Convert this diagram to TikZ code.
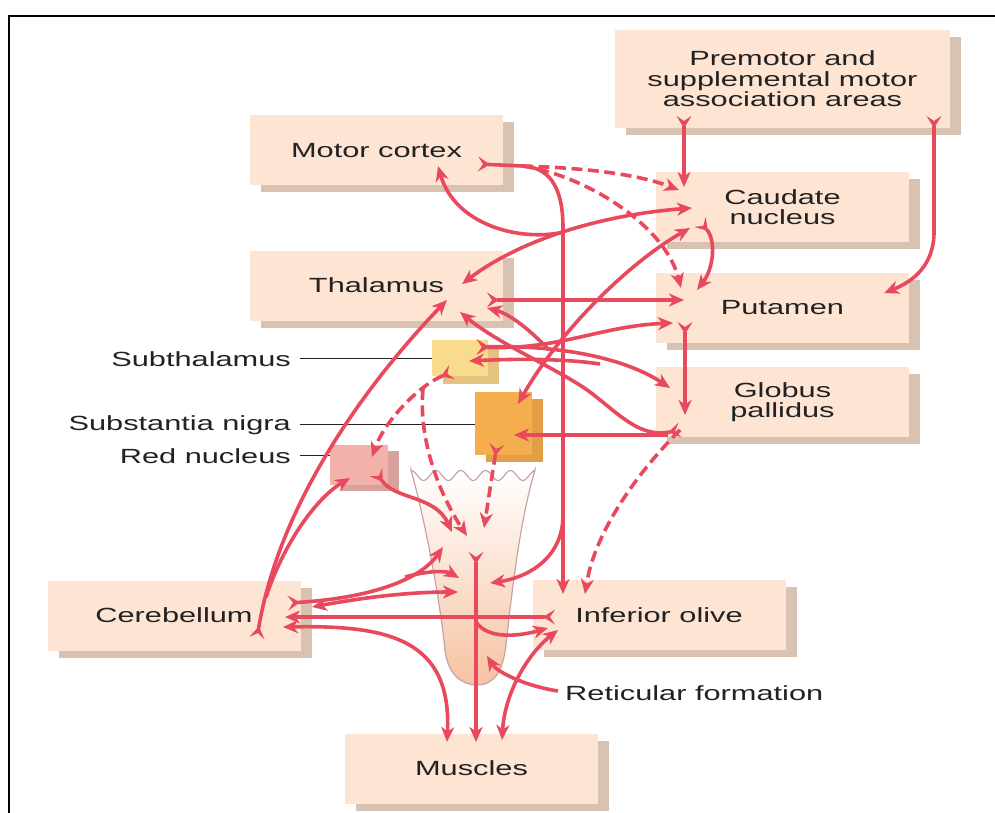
\documentclass[tikz,border=0pt]{standalone}
\usepackage{fontspec}
\setmainfont{Liberation Sans}[FakeStretch=1.5]
\usetikzlibrary{arrows.meta,shadows}

\definecolor{boxfill}{HTML}{FDE4D3}
\definecolor{boxshade}{HTML}{D8C3B2}
\definecolor{fibrec}{HTML}{E8495D}
\definecolor{ink}{HTML}{222222}
\definecolor{subfill}{HTML}{F9DB8E}
\definecolor{subshade}{HTML}{E5C27F}
\definecolor{snfill}{HTML}{F5AE4E}
\definecolor{snshade}{HTML}{E29F47}
\definecolor{rnfill}{HTML}{F2B2AA}
\definecolor{rnshade}{HTML}{D8A29C}
\definecolor{stemline}{HTML}{C9A2A5}
\definecolor{stemfill}{HTML}{F6C3A2}

\tikzset{
  fhead/.tip={Stealth[length=15pt,width=13pt,inset=4.5pt]},
  ftail/.tip={Stealth[reversed,length=12pt,width=15pt,inset=5pt]},
  lbl/.style={font=\fontsize{20.5}{20.5}\selectfont, text=ink},
  region/.style={lbl, fill=boxfill, inner sep=0pt, align=center,
     minimum width=253pt, minimum height=70pt,
     general shadow={fill=boxshade, shadow xshift=11pt, shadow yshift=-7pt}},
  nucleus/.style={inner sep=0pt},
  fibre/.style={draw=fibrec, line width=3.6pt},
  fwd/.style={fibre, arrows={-fhead}},
  both/.style={fibre, arrows={fhead-fhead}},
  tailed/.style={fibre, arrows={ftail-fhead}},
  broken/.style={dash pattern=on 11pt off 5.5pt},
  leader/.style={draw=ink, line width=1.2pt},
}

\begin{document}
\begin{tikzpicture}[x=1pt,y=-1pt]
\useasboundingbox (0,0) rectangle (995,813);
\clip (0,0) rectangle (995,813);
\fill[white] (0,0) rectangle (995,813);
\draw[line width=2.2pt] (9,16) rectangle (1100,900);

% ---- labelled regions ----
\node[region, minimum width=335pt, minimum height=98pt] (pm) at (782.5,79)
  {Premotor and\\supplemental motor\\association areas};
\node[region] (mc) at (376.5,150.5) {Motor cortex};
\node[region] (cd) at (782.5,207) {Caudate\\nucleus};
\node[region] (th) at (376.5,285.5) {Thalamus};
\node[region] (pt) at (782.5,308) {Putamen};
\node[region] (gp) at (782.5,402) {Globus\\pallidus};
\node[region] (cb) at (174,615.5) {Cerebellum};
\node[region] (io) at (659,615) {Inferior olive};
\node[region] (mu) at (471.5,768.5) {Muscles};

% ---- brain stem ----
\path[draw=stemline, line width=1.2pt, top color=white, bottom color=stemfill]
  (411,470) .. controls (425,520) and (440,600) .. (445,650)
  .. controls (448,675) and (462,685) .. (477,685)
  .. controls (495,685) and (503,670) .. (506,645)
  .. controls (512,590) and (520,520) .. (535,470)
  -- plot[domain=535:411, samples=90] (\x, {475.5 - 5*cos(14.5*(\x-436))})
  -- cycle;

% ---- nuclei ----
\node[nucleus, fill=subfill, minimum width=56pt, minimum height=36pt,
  general shadow={fill=subshade, shadow xshift=11pt, shadow yshift=-8pt}] (sub) at (460,358) {};
\node[nucleus, fill=snfill, minimum width=57pt, minimum height=63pt,
  general shadow={fill=snshade, shadow xshift=11pt, shadow yshift=-7pt}] (sn) at (503.5,423.5) {};
\node[nucleus, fill=rnfill, minimum width=58pt, minimum height=40pt,
  general shadow={fill=rnshade, shadow xshift=11pt, shadow yshift=-6pt}] (rn) at (359,465) {};

\node[lbl, anchor=base east, inner sep=0pt] (subLbl) at (291,366) {Subthalamus};
\node[lbl, anchor=base east, inner sep=0pt] (snLbl) at (291,430) {Substantia nigra};
\node[lbl, anchor=base east, inner sep=0pt] (rnLbl) at (291,463) {Red nucleus};
\node[lbl, anchor=base west, inner sep=0pt] (rfLbl) at (565,700) {Reticular formation};

\draw[leader] ([xshift=9pt]subLbl.east) -- (subLbl.east -| sub.west);
\draw[leader] ([xshift=9pt]snLbl.east) -- (snLbl.east -| sn.west);
\draw[leader] ([xshift=9pt]rnLbl.east) -- (rnLbl.east -| rn.west);

% ---- end points of the fibres ----
\coordinate (pmA) at (684,116);   \coordinate (cdTop) at (684,187);
\coordinate (pmB) at (934,116);   \coordinate (pmBk) at (934,232);
\coordinate (ptR) at (884,293);
\coordinate (mcOut) at (478,164); \coordinate (mcFork) at (522,166);
\coordinate (ioTopA) at (563,594);
\coordinate (cdIn1) at (679,190); \coordinate (ptIn1) at (681,288);
\coordinate (mcIn) at (438,166);  \coordinate (thIn1) at (462,284);
\coordinate (cdIn2) at (692,208); \coordinate (loopJ) at (564,232);
\coordinate (thOut) at (487,300); \coordinate (ptIn2) at (684,300);
\coordinate (cdOut) at (700,222); \coordinate (ptIn3) at (697,290);
\coordinate (ptOut) at (685,322); \coordinate (gpIn0) at (685,415);
\coordinate (snIn) at (518,404);  \coordinate (cdIn3) at (690,228);
\coordinate (stOut) at (477,347); \coordinate (ptIn4) at (673,323);
\coordinate (gpIn1) at (670,388);
\coordinate (stIn) at (469,361);  \coordinate (stRet) at (600,364);
\coordinate (hub) at (549,350);   \coordinate (thIn4) at (487,308);
\coordinate (gpOut) at (680,430); \coordinate (thIn2) at (460,312);
\coordinate (gpSplit) at (668,435); \coordinate (snIn2) at (514,435);
\coordinate (ioTopB) at (585,594);
\coordinate (stLow) at (452,372); \coordinate (rnIn1) at (372,457);
\coordinate (stFork) at (423,389); \coordinate (bsIn1) at (467,536);
\coordinate (snOut) at (497,444); \coordinate (bsIn2) at (484,528);
\coordinate (rnOut) at (376,472); \coordinate (bsIn3) at (452,532);
\coordinate (cbOut1) at (257,638); \coordinate (thIn3) at (447,300);
\coordinate (cbFork) at (266,597); \coordinate (rnIn2) at (350,478);
\coordinate (cbA) at (288,603);   \coordinate (bsIn4) at (443,547);
\coordinate (cbB) at (405,577);   \coordinate (bsIn5) at (459,578);
\coordinate (bsOut6) at (458,592); \coordinate (cbIn6) at (312,607);
\coordinate (ioOut) at (555,617); \coordinate (cbIn7) at (285,617);
\coordinate (cbIn8) at (283,627); \coordinate (muIn1) at (447,742);
\coordinate (bsTop) at (476,552); \coordinate (muIn2) at (476,742);
\coordinate (bsBr) at (476,622);  \coordinate (ioIn1) at (548,628);
\coordinate (mcBr) at (563,515);  \coordinate (bsIn7) at (490,583);
\coordinate (rfStart) at (558,691); \coordinate (rfIn) at (487,656);
\coordinate (muIn3) at (502,740); \coordinate (ioIn2) at (558,630);

% ---- premotor outputs ----
\draw[tailed] (pmA) -- (cdTop);
\draw[tailed] (pmB) -- (pmBk) .. controls (934,266) and (912,282) .. (ptR);

% ---- motor cortex ----
\draw[tailed] (mcOut) -- (mcFork) .. controls (548,167) and (563,185) .. (563,228) -- (ioTopA);
\draw[fwd,broken] (mcFork) .. controls (590,168) and (640,175) .. (cdIn1);
\draw[fwd,broken] (mcFork) .. controls (585,175) and (665,225) .. (ptIn1);
\draw[both] (thIn1) .. controls (520,240) and (600,215) .. (cdIn2);
\draw[fwd] (loopJ) .. controls (520,242) and (455,225) .. (mcIn);

% ---- striatum and pallidum ----
\draw[tailed] (thOut) -- (ptIn2);
\draw[tailed] (cdOut) .. controls (716,240) and (714,268) .. (ptIn3);
\draw[tailed] (ptOut) -- (gpIn0);
\draw[both] (snIn) .. controls (560,330) and (630,262) .. (cdIn3);
\draw[tailed] (stOut) .. controls (560,350) and (600,326) .. (ptIn4);
\draw[tailed] (stOut) .. controls (560,345) and (625,358) .. (gpIn1);
\draw[fwd] (stRet) .. controls (560,358) and (510,359) .. (stIn);
\draw[fwd] (hub) .. controls (530,330) and (510,314) .. (thIn4);
\draw[tailed] (gpOut) .. controls (640,438) and (620,415) .. (590,392)
  .. controls (560,370) and (500,345) .. (thIn2);
\draw[fwd] (gpSplit) -- (snIn2);
\draw[fwd,broken] (gpOut) .. controls (640,470) and (595,530) .. (ioTopB);

% ---- subthalamus, nigra, red nucleus ----
\draw[tailed,broken] (stLow) .. controls (420,385) and (385,420) .. (rnIn1);
\draw[fwd,broken] (stFork) .. controls (418,440) and (440,495) .. (bsIn1);
\draw[tailed,broken] (snOut) -- (bsIn2);
\draw[tailed] (rnOut) .. controls (395,500) and (435,495) .. (bsIn3);

% ---- cerebellum ----
\draw[tailed] (cbOut1) .. controls (280,500) and (370,380) .. (thIn3);
\draw[fwd] (cbFork) .. controls (285,540) and (318,497) .. (rnIn2);
\draw[tailed] (cbA) .. controls (370,598) and (420,580) .. (bsIn4);
\draw[fwd] (cbB) .. controls (430,570) and (447,571) .. (bsIn5);
\draw[both] (bsOut6) .. controls (400,592) and (350,600) .. (cbIn6);
\draw[tailed] (ioOut) -- (cbIn7);
\draw[both] (cbIn8) .. controls (390,625) and (452,640) .. (muIn1);

% ---- brain stem outputs ----
\draw[tailed] (bsTop) -- (muIn2);
\draw[fwd] (bsBr) .. controls (488,640) and (520,636) .. (ioIn1);
\draw[fwd] (mcBr) .. controls (563,560) and (525,578) .. (bsIn7);
\draw[fwd] (rfStart) .. controls (525,686) and (497,672) .. (rfIn);
\draw[both] (muIn3) .. controls (505,690) and (530,652) .. (ioIn2);
\end{tikzpicture}
\end{document}
